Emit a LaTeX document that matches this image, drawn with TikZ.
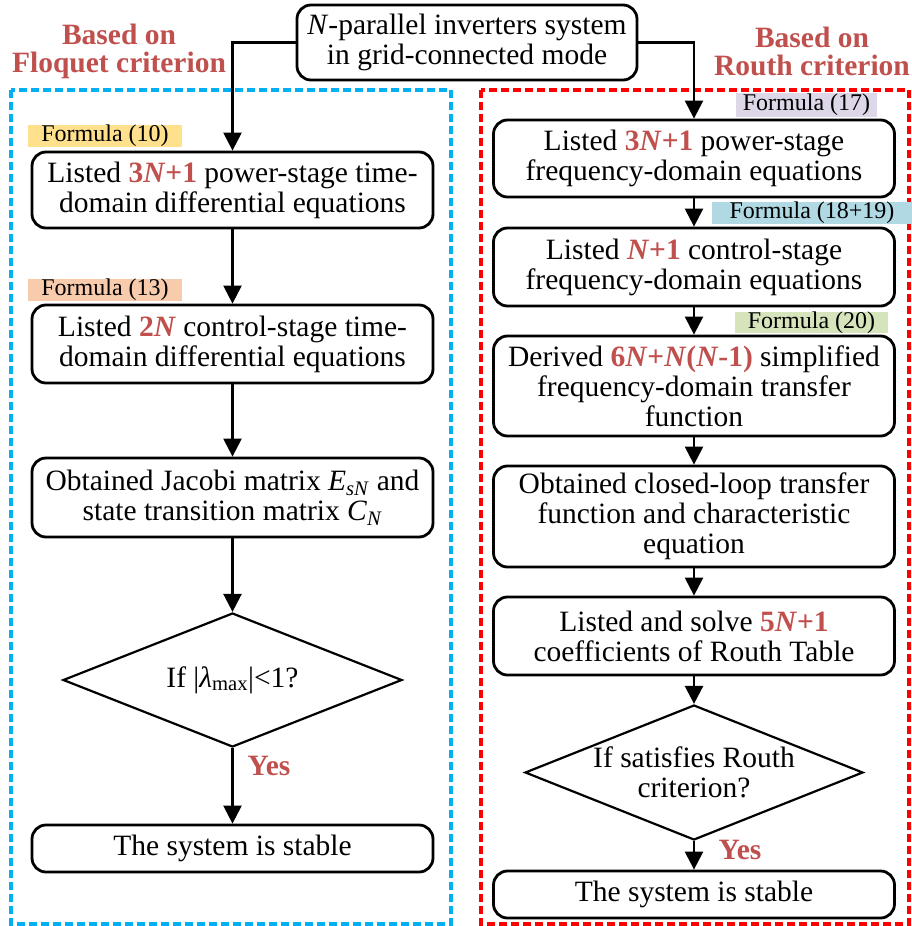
\documentclass[tikz,border=0pt]{standalone}
\usepackage{fontspec}
\setmainfont{Liberation Serif}
\usetikzlibrary{arrows.meta,shapes.geometric}
\definecolor{hl}{HTML}{C0504D}
\definecolor{fyel}{HTML}{FFE08C}
\definecolor{fpch}{HTML}{F8CBAD}
\definecolor{flav}{HTML}{DDD7E8}
\definecolor{fblu}{HTML}{B0D9E4}
\definecolor{fgrn}{HTML}{D6E4BC}
\definecolor{dblue}{HTML}{00B0F0}
\definecolor{dred}{HTML}{FF0000}
\newcommand\rb[1]{\textcolor{hl}{\textbf{#1}}}
\newcommand\bN{\textbf{\textit{N}}}
\begin{document}
\begin{tikzpicture}[x=1pt,y=-1pt,
  box/.style={draw, line width=2.8pt, rounded corners=14pt, minimum width=401pt,
    align=center, inner sep=0pt, font=\fontsize{29.5}{30}\selectfont},
  dia/.style={draw, diamond, line width=2.2pt, minimum width=339pt, minimum height=134pt, inner sep=0pt},
  txt/.style={align=center, inner sep=0pt, font=\fontsize{29.5}{30}\selectfont},
  ttl/.style={align=center, inner sep=0pt, text=hl, font=\fontsize{29.5}{28}\selectfont\bfseries},
  yes/.style={inner sep=0pt, text=hl, font=\fontsize{29.5}{30}\selectfont\bfseries},
  frm/.style={inner sep=0pt, font=\fontsize{24}{24}\selectfont},
  arr/.style={line width=2.4pt, -{Triangle[length=18pt,width=18pt]}},
  bdash/.style={draw=dblue, line width=4pt, dash pattern=on 8pt off 4pt},
  rdash/.style={draw=dred, line width=4pt, dash pattern=on 8pt off 4pt}]
\useasboundingbox (0,0) rectangle (912,926);
\fill[white] (0,0) rectangle (912,926);
% dashed frames
\draw[bdash] (11,90) rectangle (451,924);
\draw[rdash] (481,90) rectangle (909,924);
% titles
\node[ttl] (tl) at (119,51) {Based on\\Floquet criterion};
\node[ttl] (tr) at (812,51) {Based on\\Routh criterion};
% top
\node[box, minimum width=340pt, minimum height=75pt] (top) at (467,42.5)
  {\textit{N}-parallel inverters system\\in grid-connected mode};
% left column
\node[frm, fill=fyel, minimum width=154pt, minimum height=22pt] (f10) at (105,136) {Formula (10)};
\node[box, minimum height=76pt] (L1) at (232.5,190)
  {Listed \rb{3\bN+1} power-stage time-\\domain differential equations};
\node[frm, fill=fpch, minimum width=154pt, minimum height=22pt] (f13) at (105,290) {Formula (13)};
\node[box, minimum height=78pt] (L2) at (232.5,344)
  {Listed \rb{2\bN} control-stage time-\\domain differential equations};
\node[box, minimum height=79pt] (L3) at (232.5,497.5)
  {Obtained Jacobi matrix \textit{E}\textsubscript{\textit{sN}} and\\state transition matrix \textit{C}\textsubscript{\textit{N}}};
\node[dia] (Ld) at (232.5,680) {};
\node[txt] (Ldt) at (Ld.center) {If |\textit{λ}\textsubscript{max}|<1?};
\node[yes] (Ly) at (269,766) {Yes};
\node[box, minimum height=47pt] (Ls) at (232.5,848.5) {The system is stable};
% right column
\node[frm, fill=flav, minimum width=141pt, minimum height=24pt] (f17) at (806.5,105) {Formula (17)};
\node[box, minimum height=77pt] (R1) at (694,158.5)
  {Listed \rb{3\bN+1} power-stage\\frequency-domain equations};
\node[frm, fill=fblu, minimum width=200pt, minimum height=22pt] (f18) at (812,213) {Formula (18+19)};
\node[box, minimum height=78pt] (R2) at (694,267)
  {Listed \rb{\bN+1} control-stage\\frequency-domain equations};
\node[frm, fill=fgrn, minimum width=153pt, minimum height=21pt] (f20) at (811.5,322.5) {Formula (20)};
\node[box, minimum height=100pt] (R3) at (694,386)
  {Derived \rb{6\bN+\bN(\bN-1)} simplified\\frequency-domain transfer\\function};
\node[box, minimum height=101pt] (R4) at (694,516.5)
  {Obtained closed-loop transfer\\function and characteristic\\equation};
\node[box, minimum height=78pt] (R5) at (694,636)
  {Listed and solve \rb{5\bN+1}\\coefficients of Routh Table};
\node[dia, minimum width=338pt, minimum height=135pt] (Rd) at (694,772.5) {};
\node[txt] (Rdt) at (Rd.center) {If satisfies Routh\\criterion?};
\node[yes] (Ry) at (740,850) {Yes};
\node[box, minimum height=47pt] (Rs) at (694,894.5) {The system is stable};
% connectors
\draw[arr] (top.west) -| (L1.north);
\draw[arr] (top.east) -| (R1.north);
\draw[arr] (L1.south) -- (L2.north);
\draw[arr] (L2.south) -- (L3.north);
\draw[arr] (L3.south) -- (Ld.north);
\draw[arr] (Ld.south) -- (Ls.north);
\draw[arr] (R1.south) -- (R2.north);
\draw[arr] (R2.south) -- (R3.north);
\draw[arr] (R3.south) -- (R4.north);
\draw[arr] (R4.south) -- (R5.north);
\draw[arr] (R5.south) -- (Rd.north);
\draw[arr] (Rd.south) -- (Rs.north);
\end{tikzpicture}
\end{document}
